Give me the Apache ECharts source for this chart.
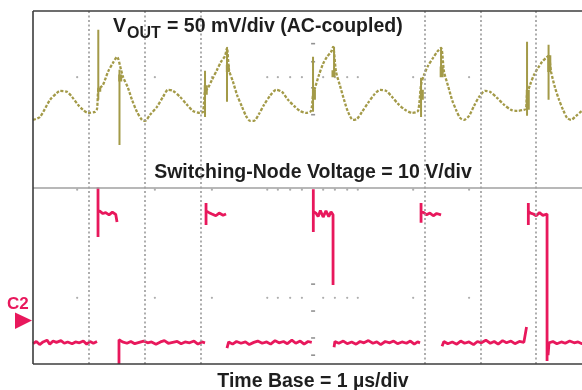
<!DOCTYPE html>
<html>
<head>
<meta charset="utf-8">
<script src="https://cdn.jsdelivr.net/npm/echarts@6/dist/echarts.min.js"></script>
<style>
  html, body { margin: 0; padding: 0; background: #fff; }
  #chart { width: 582px; height: 390px; }
</style>
</head>
<body>
<div id="chart"></div>
<script>
// scope screen: x in us (1 us/div, right edge of the 10-div screen is cut off), graticule y in div (8 div)
const gridDivX = [1, 2, 3, 7, 8, 9];
const centerTickY = [7.26, 6.85, 6.26, 5.65, 1.81, 1.2, 0.59, 0.2];
const dotRowY = [6.5, 3.95, 1.5];
const dotX = [0.79, 2.18, 3.2, 4.19, 4.38, 4.6, 4.81, 5.19, 5.4, 5.62, 5.81, 6.8, 7.8];

// VOUT ripple, [us, mV] (50 mV/div, AC-coupled)
const voutWave = [
  [0, -23.4], [0.125, -20.0], [0.304, -0.7], [0.429, 7.3], [0.483, 9.5], [0.608, 8.4],
  [0.698, 2.7], [0.805, -6.3], [0.894, -12.0], [0.984, -15.4], [1.109, -14.3], [1.145, -10.9],
  [1.168, 10.7], [1.199, 12.9], [1.252, 16.3], [1.342, 31.1], [1.431, 41.3], [1.503, 48.1],
  [1.575, 33.3], [1.61, 25.4], [1.699, 12.9], [1.771, -0.7], [1.86, -14.3], [1.95, -23.4],
  [2.004, -24.5], [2.093, -17.7], [2.218, -8.6], [2.326, 2.7], [2.415, 10.7], [2.504, 9.5],
  [2.63, 2.7], [2.755, -6.3], [2.862, -13.2], [2.987, -15.4], [3.041, -14.3], [3.077, 8.4],
  [3.131, 12.9], [3.202, 22.0], [3.292, 33.3], [3.363, 42.4], [3.435, 49.2], [3.47, 58.3],
  [3.506, 33.3], [3.578, 19.7], [3.649, 5.0], [3.739, -8.6], [3.81, -18.8], [3.882, -24.5],
  [3.953, -24.5], [4.043, -16.6], [4.132, -6.3], [4.24, 3.9], [4.347, 10.7], [4.454, 8.4],
  [4.562, -0.7], [4.687, -8.6], [4.776, -13.2], [4.884, -15.4], [4.973, -13.2], [5.009, 5.0],
  [5.045, 12.9], [5.116, 27.7], [5.188, 40.1], [5.259, 48.1], [5.331, 53.7], [5.367, 59.4],
  [5.42, 31.1], [5.492, 15.2], [5.564, -0.7], [5.635, -14.3], [5.725, -23.4], [5.796, -22.2],
  [5.886, -14.3], [5.993, -4.1], [6.1, 5.0], [6.208, 10.7], [6.315, 9.5], [6.422, 2.7],
  [6.53, -5.2], [6.655, -12.0], [6.78, -15.4], [6.887, -13.2], [6.941, 16.3], [6.995, 27.7],
  [7.066, 37.9], [7.156, 46.9], [7.227, 53.7], [7.299, 58.3], [7.352, 31.1], [7.424, 15.2],
  [7.496, -0.7], [7.567, -12.0], [7.639, -21.1], [7.71, -23.4], [7.8, -18.8], [7.889, -7.5],
  [7.979, 2.7], [8.086, 9.5], [8.175, 8.4], [8.301, 1.6], [8.426, -6.3], [8.551, -12.0],
  [8.658, -13.2], [8.783, -12.0], [8.819, -10.9], [8.837, 5.0], [8.891, 16.3], [8.962, 27.7],
  [9.034, 35.6], [9.106, 42.4], [9.177, 46.9], [9.222, 49.2], [9.267, 31.1], [9.338, 13.0],
  [9.41, -0.7], [9.481, -12.0], [9.553, -21.1], [9.624, -23.4], [9.714, -18.8], [9.821, -13.2],
  [10, -6.3]
];
// switching spikes on VOUT: [us, top mV, bottom mV]
const voutSpikes = [
  [1.168, 78.7, -0.7], [1.547, 33.3, -51.7], [3.077, 32.2, -20.0], [3.47, 58.3, -2.9],
  [5.009, 48.1, -14.3], [5.385, 59.4, 27.7], [6.941, 24.3, -20.0], [7.299, 58.3, 27.7],
  [8.837, 65.1, -18.8], [9.222, 61.7, -0.7]
];
// thick ringing blobs at the spikes: [us, top mV, bottom mV]
const voutBlobs = [
  [1.185, 12.9, 8.4], [1.56, 28, 20], [3.09, 16, 5], [3.485, 39, 31], [5.025, 10.7, -0.7],
  [5.375, 33, 25], [6.955, 10.7, -0.7], [7.31, 37, 25], [8.85, 10.7, -12], [9.235, 50, 31]
];

// switching node, [us, V] (10 V/div, C2 ground at 1 div)
const swSegments = [
  [[0, -5.4], [0.06, -4.9], [0.12, -5.6], [0.18, -5.0], [0.25, -4.6], [0.3, -5.5], [0.36, -4.8],
   [0.42, -5.1], [0.5, -4.7], [0.56, -5.3], [0.62, -5.0], [0.7, -5.4], [0.76, -5.0], [0.83, -5.2],
   [0.9, -4.8], [0.96, -5.5], [1.02, -4.9], [1.08, -5.3], [1.145, -4.9]],
  [[1.163, 30.0], [1.163, 18.8], [1.163, 24.8], [1.2, 24.6], [1.25, 24.1], [1.3, 24.3], [1.36, 23.8],
   [1.42, 24.4], [1.48, 23.9], [1.503, 24.2], [1.503, 22.2]],
  [[1.538, -10.0], [1.538, -4.5], [1.6, -5.0], [1.68, -5.3], [1.75, -4.9], [1.82, -5.4], [1.9, -5.1],
   [1.98, -4.8], [2.05, -5.2], [2.12, -5.0], [2.2, -5.5], [2.28, -5.0], [2.35, -4.7], [2.42, -5.3],
   [2.5, -5.1], [2.58, -4.9], [2.65, -5.4], [2.72, -5.0], [2.8, -5.2], [2.88, -4.8], [2.95, -5.5],
   [3.02, -5.0], [3.077, -5.2]],
  [[3.095, 26.5], [3.095, 21.5], [3.095, 24.7], [3.15, 24.3], [3.2, 24.0], [3.27, 23.6], [3.33, 24.2],
   [3.4, 23.7], [3.453, 24.0]],
  [[3.47, -6.4], [3.5, -5.0], [3.57, -5.5], [3.64, -4.9], [3.72, -5.3], [3.8, -5.0], [3.87, -5.6],
   [3.95, -5.1], [4.02, -4.8], [4.1, -5.3], [4.18, -5.0], [4.25, -5.5], [4.33, -4.7], [4.4, -5.2],
   [4.48, -4.9], [4.55, -5.4], [4.63, -4.6], [4.7, -5.3], [4.78, -4.8], [4.85, -5.5], [4.92, -4.9],
   [4.986, -5.1]],
  [[5.014, 29.6], [5.014, 19.9], [5.014, 24.6], [5.06, 24.2], [5.1, 23.4], [5.14, 24.8], [5.19, 23.3],
   [5.24, 24.7], [5.29, 23.4], [5.33, 24.5], [5.367, 23.8], [5.367, 7.9]],
  [[5.385, -6.2], [5.4, -4.9], [5.47, -5.3], [5.55, -4.8], [5.62, -5.4], [5.7, -5.0], [5.78, -5.5],
   [5.85, -4.9], [5.92, -5.2], [6.0, -4.7], [6.08, -5.3], [6.15, -5.0], [6.22, -5.6], [6.3, -4.9],
   [6.38, -5.2], [6.45, -4.8], [6.52, -5.4], [6.6, -5.0], [6.68, -5.3], [6.75, -4.8], [6.82, -5.5],
   [6.88, -5.0], [6.923, -5.2]],
  [[6.941, 26.5], [6.941, 22.0], [6.941, 24.5], [6.99, 24.3], [7.04, 23.8], [7.1, 24.2], [7.16, 23.6],
   [7.22, 24.1], [7.299, 23.8]],
  [[7.317, -6.0], [7.35, -4.9], [7.42, -5.4], [7.5, -5.0], [7.58, -5.5], [7.65, -4.8], [7.72, -5.3],
   [7.8, -5.0], [7.88, -5.6], [7.95, -4.9], [8.02, -5.2], [8.1, -4.6], [8.18, -5.3], [8.25, -4.9],
   [8.32, -5.5], [8.4, -4.7], [8.47, -5.2], [8.55, -4.8], [8.62, -5.4], [8.7, -4.9], [8.78, -5.1],
   [8.81, -4.7], [8.828, -1.6]],
  [[8.86, 26.5], [8.86, 21.5], [8.86, 24.6], [8.9, 24.2], [8.95, 24.0], [9.0, 23.6], [9.06, 24.3],
   [9.12, 23.7], [9.195, 24.0], [9.195, -9.3]],
  [[9.213, -8.0], [9.23, -5.2], [9.3, -4.9], [9.37, -5.4], [9.45, -5.0], [9.52, -5.3], [9.6, -4.8],
   [9.68, -5.2], [9.75, -5.0], [9.82, -5.4], [9.9, -4.9], [10, -5.1]]
];

const OLIVE = "#a39a48";
const PINK = "#e8185c";
const GRAT = "#9a9a9a";
const FRAME = "#3c3c3c";
const FONT = '"Liberation Sans", Arial, sans-serif';
const VISIBLE_US = 9.82; // screen is cropped at the right side of the photo

function withBreaks(segments) {
  const out = [];
  segments.forEach((seg, i) => {
    if (i) out.push([seg[0][0], null]);
    seg.forEach((p) => out.push(p));
  });
  return out;
}

const spikeData = withBreaks(voutSpikes.map(([t, hi, lo]) => [[t, hi], [t, lo]]));
const blobData = withBreaks(voutBlobs.map(([t, hi, lo]) => [[t, hi], [t, lo]]));
const dotData = [];
dotRowY.forEach((y) => dotX.forEach((x) => dotData.push([x, y])));

const frameLine = { type: "solid", color: FRAME, width: 1.6 };

const chart = echarts.init(document.getElementById("chart"), null, { renderer: "canvas" });

chart.setOption({
  animation: false,
  grid: { left: 33, top: 11, right: 0, height: 353, show: false },
  xAxis: { type: "value", min: 0, max: VISIBLE_US, show: false },
  yAxis: [
    { type: "value", min: 0, max: 8, show: false },
    { type: "value", min: -300, max: 100, show: false },
    { type: "value", min: -10, max: 70, show: false }
  ],
  series: [
    {
      type: "scatter", yAxisIndex: 0, silent: true, symbol: "circle", symbolSize: 2.2,
      itemStyle: { color: GRAT }, data: dotData,
      markLine: {
        silent: true, symbol: "none", label: { show: false },
        lineStyle: { color: GRAT, type: [2, 2.5], width: 1.6 },
        data: gridDivX.map((x) => ({ xAxis: x })).concat([
          { yAxis: 4, lineStyle: { type: "solid", color: "#a0a0a0", width: 1.5 } },
          { xAxis: 0, lineStyle: frameLine },
          { yAxis: 0, lineStyle: frameLine },
          { yAxis: 8, lineStyle: frameLine }
        ])
      }
    },
    {
      type: "scatter", yAxisIndex: 0, silent: true, symbol: "rect", symbolSize: [4, 1.6],
      itemStyle: { color: "#777" }, data: centerTickY.map((y) => [5.01, y])
    },
    {
      type: "line", yAxisIndex: 1, data: voutWave, showSymbol: false, smooth: 0.25,
      lineStyle: { color: OLIVE, width: 2.3, type: [3, 1.6] }
    },
    {
      type: "line", yAxisIndex: 1, data: spikeData, showSymbol: false,
      lineStyle: { color: OLIVE, width: 2 }
    },
    {
      type: "line", yAxisIndex: 1, data: blobData, showSymbol: false,
      lineStyle: { color: OLIVE, width: 4 }
    },
    {
      type: "line", yAxisIndex: 2, data: withBreaks(swSegments), showSymbol: false,
      lineStyle: { color: PINK, width: 2.8 }
    }
  ],
  graphic: [
    { type: "text", x: 113, y: 27, style: { text: "V", font: `bold 19.5px ${FONT}`, fill: "#1e1e1e", textVerticalAlign: "middle" } },
    { type: "text", x: 127, y: 33.5, style: { text: "OUT", font: `bold 16px ${FONT}`, fill: "#1e1e1e", textVerticalAlign: "middle" } },
    { type: "text", x: 167, y: 27, style: { text: "= 50 mV/div (AC-coupled)", font: `bold 19.5px ${FONT}`, fill: "#1e1e1e", textVerticalAlign: "middle" } },
    { type: "text", x: 313, y: 173, style: { text: "Switching-Node Voltage = 10 V/div", font: `bold 19.5px ${FONT}`, fill: "#1e1e1e", textAlign: "center", textVerticalAlign: "middle" } },
    { type: "text", x: 313, y: 381.5, style: { text: "Time Base = 1 µs/div", font: `bold 19.5px ${FONT}`, fill: "#1e1e1e", textAlign: "center", textVerticalAlign: "middle" } },
    { type: "text", x: 7, y: 304, style: { text: "C2", font: `bold 17px ${FONT}`, fill: PINK, textVerticalAlign: "middle" } },
    { type: "polygon", shape: { points: [[15, 312.5], [32, 320.5], [15, 329]] }, style: { fill: PINK } }
  ]
});
</script>
</body>
</html>
